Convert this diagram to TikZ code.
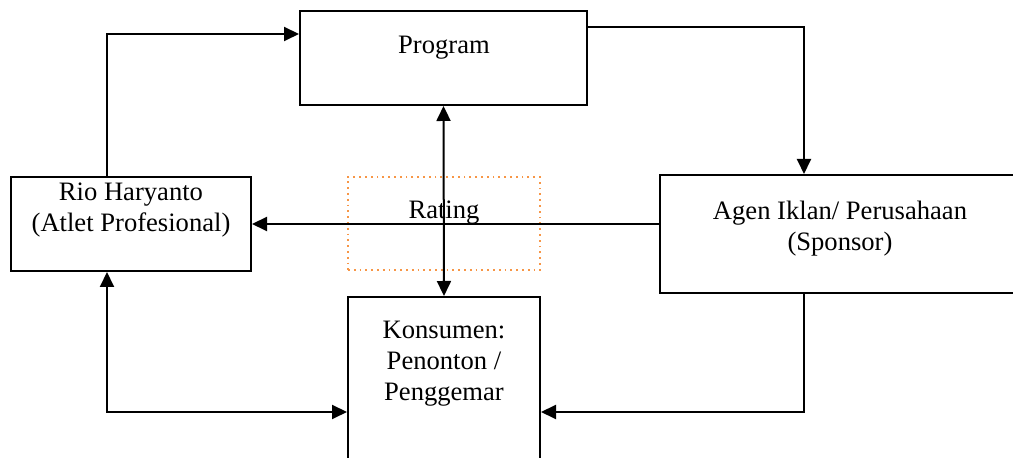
\documentclass[tikz,border=0pt]{standalone}
\usepackage{fontspec}
\setmainfont{Liberation Serif}
\usepackage{tikz}
\usetikzlibrary{arrows.meta,positioning,calc}
\definecolor{ratingorange}{RGB}{247,150,70}

\begin{document}
\begin{tikzpicture}[
 x=0.5pt,y=-0.5pt,
 every node/.style={font=\fontsize{13.3}{15.5}\selectfont,align=center},
 box/.style={draw=black,line width=1pt,inner sep=0pt},
 ratingbox/.style={draw=ratingorange,dotted,line width=0.9pt,inner sep=0pt,minimum width=96pt,minimum height=46.5pt},
 arrow/.style={-{Triangle[length=7.5pt,width=7pt]},line width=1pt},
 twoway/.style={{Triangle[length=7.5pt,width=7pt]}-{Triangle[length=7.5pt,width=7pt]},line width=1pt}
]
\useasboundingbox (0,0) rectangle (1013,458);
\clip (0,0) rectangle (1013,458);
% boxes
\node[ratingbox] (rating) at (444,223.5) {};
\node[box,minimum width=143.5pt,minimum height=47pt] (prog) at (443.5,58) {};
\node[box,minimum width=120pt,minimum height=47pt] (rio) at (131,224) {};
\node[box,minimum width=190pt,minimum height=59pt] (agen) at (850,234) {};
\node[box,minimum width=96pt,minimum height=91.5pt] (kons) at (444,388.5) {};
% texts
\node (progtxt) at (444,48) {Program};
\node (riotxt) at (131,210) {Rio Haryanto\\(Atlet Profesional)};
\node (ratingtxt) at (444,213) {Rating};
\node (agentxt) at (840,229) {Agen Iklan/ Perusahaan\\(Sponsor)};
\node (konstxt) at (444,364) {Konsumen:\\Penonton /\\Penggemar};
% connectors
\draw[arrow] ([xshift=-12pt]rio.north) |- ([yshift=-12pt]prog.north west);
\draw[arrow] ([yshift=-8.5pt]prog.north east) -| ([xshift=-23pt]agen.north);
\draw[arrow] (rio.east -| agen.west) -- (rio.east);
\draw[twoway] (prog.south) -- (kons.north);
\draw[twoway] ([xshift=-12pt]rio.south) |- ([yshift=-11.75pt]kons.west);
\draw[arrow] ([xshift=-23pt]agen.south) |- ([yshift=-11.75pt]kons.east);
\end{tikzpicture}
\end{document}
